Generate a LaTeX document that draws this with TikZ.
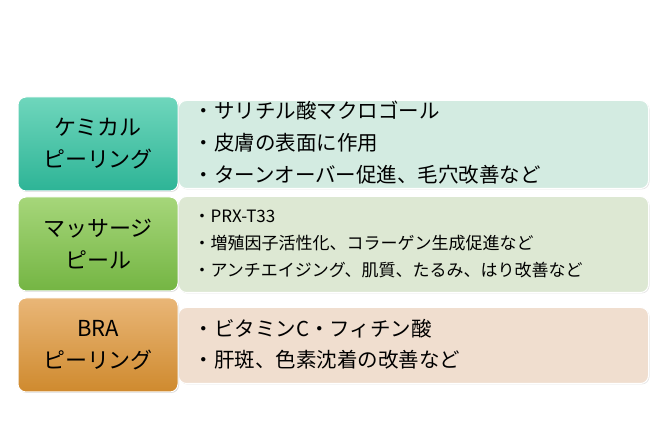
\documentclass[tikz,border=0pt]{standalone}
\usepackage{fontspec}
\setmainfont{Noto Sans CJK JP}
\usetikzlibrary{shadows}
\definecolor{tealA}{HTML}{6FD6BC}\definecolor{tealB}{HTML}{2DB496}\definecolor{tealP}{HTML}{D3EBE1}
\definecolor{grnA}{HTML}{A6D67A}\definecolor{grnB}{HTML}{74B543}\definecolor{grnP}{HTML}{DDE8D3}
\definecolor{orgA}{HTML}{E9B677}\definecolor{orgB}{HTML}{CF8A2E}\definecolor{orgP}{HTML}{F0DECF}
\tikzset{
 label/.style={rounded corners=8pt,minimum width=160pt,minimum height=94pt,align=center,font=\fontsize{22}{32}\selectfont,draw=white,line width=1pt,drop shadow={opacity=0.3,shadow xshift=1pt,shadow yshift=-1pt}},
 panel/.style={rounded corners=8pt,anchor=north west,draw=white,line width=1pt,drop shadow={opacity=0.2,shadow xshift=1pt,shadow yshift=-1pt}},
 item/.style={anchor=west,align=left}
}
\begin{document}
\begin{tikzpicture}[x=1pt,y=-1pt]
\useasboundingbox (0,0) rectangle (665,443);
% panels
\node[panel,fill=tealP,minimum width=470pt,minimum height=88pt] (p1) at (178,100) {};
\node[panel,fill=grnP,minimum width=470pt,minimum height=96pt] (p2) at (178,196) {};
\node[panel,fill=orgP,minimum width=470pt,minimum height=76pt] (p3) at (178,307) {};
% labels
\node[label,top color=tealA,bottom color=tealB] (l1) at (98,144) {ケミカル\\ピーリング};
\node[label,top color=grnA,bottom color=grnB] (l2) at (98,244) {マッサージ\\ピール};
\node[label,top color=orgA,bottom color=orgB] (l3) at (98,345) {BRA\\ピーリング};
% items
\begin{scope}[font=\fontsize{20.5}{22}\selectfont]
\node[item] (a1) at (190,111) {・サリチル酸マクロゴール};
\node[item] (a2) at (190,143) {・皮膚の表面に作用};
\node[item] (a3) at (190,175) {・ターンオーバー促進、毛穴改善など};
\node[item] (c1) at (190,329) {・ビタミンC・フィチン酸};
\node[item] (c2) at (190,360) {・肝斑、色素沈着の改善など};
\end{scope}
\begin{scope}[font=\fontsize{17}{18}\selectfont]
\node[item] (b1) at (190,216) {・PRX-T33};
\node[item] (b2) at (190,243) {・増殖因子活性化、コラーゲン生成促進など};
\node[item] (b3) at (190,270) {・アンチエイジング、肌質、たるみ、はり改善など};
\end{scope}
\end{tikzpicture}
\end{document}
